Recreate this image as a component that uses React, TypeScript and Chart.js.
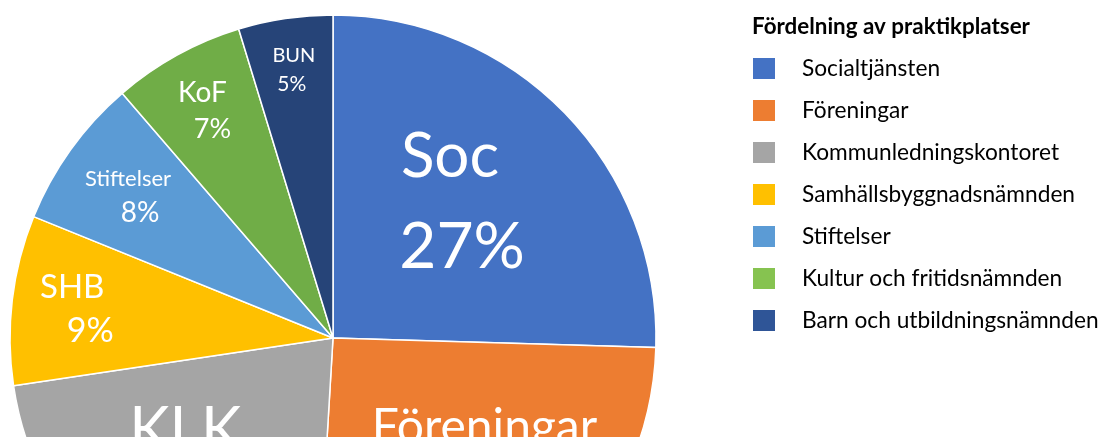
import React, { useEffect, useRef } from "react";
import { Chart, registerables } from "chart.js";

Chart.register(...registerables);

// ---- Data ----
const categories = [
  "Socialtjänsten",
  "Föreningar",
  "Kommunledningskontoret",
  "Samhällsbyggnadsnämnden",
  "Stiftelser",
  "Kultur och fritidsnämnden",
  "Barn och utbildningsnämnden",
];
const shortNames = ["Soc", "Föreningar", "KLK", "SHB", "Stiftelser", "KoF", "BUN"];
const values = [27, 27, 23, 9, 8, 7, 5];
const legendTitle = "Fördelning av praktikplatser";

// ---- Styles ----
const sliceColors = ["#4472C4", "#ED7D31", "#A5A5A5", "#FFC000", "#5B9BD5", "#70AD47", "#264478"];
const legendColors = ["#4472C4", "#ED7D31", "#A5A5A5", "#FFC000", "#5B9BD5", "#86C350", "#2F5597"];
const FONT = "Lato, 'Open Sans', sans-serif";
const labelRadius = [0.572, 0.609, 0.622, 0.785, 0.758, 0.805, 0.842];
const labelAngleShift = [-4.1, -7.9, 4.9, 0, 0, 0, 0];
const nameSize = [62, 48, 61, 33, 22, 28, 20];
const valueSize = [64, 48, 61, 34, 28, 27, 21];
const lineGap = [90, 75, 90, 43.5, 34, 37, 28.5];
const nameDx = [-6, 0, 0, -9, -6, -5, 1];
const valueDx = [6, 0, 0, 9, 6, 5, -1];
const CAP = 0.7165;

const labelPlugin = {
  id: "sliceLabels",
  afterDatasetsDraw(chart: any) {
    const ctx = chart.ctx;
    const meta = chart.getDatasetMeta(0);
    meta.data.forEach((arc: any, i: number) => {
      const p = arc.getProps(["x", "y", "startAngle", "endAngle", "outerRadius"], true);
      const mid = (p.startAngle + p.endAngle) / 2 + (labelAngleShift[i] * Math.PI) / 180;
      const r = p.outerRadius * labelRadius[i];
      const ax = p.x + Math.cos(mid) * r;
      const ay = p.y + Math.sin(mid) * r;
      ctx.save();
      ctx.fillStyle = "#ffffff";
      ctx.textAlign = "center";
      ctx.textBaseline = "alphabetic";
      ctx.font = `${nameSize[i]}px ${FONT}`;
      ctx.fillText(shortNames[i], ax + nameDx[i], ay - lineGap[i] / 2 + CAP * nameSize[i] / 2);
      ctx.font = `${valueSize[i]}px ${FONT}`;
      ctx.fillText(`${chart.data.datasets[0].data[i]}%`, ax + valueDx[i], ay + lineGap[i] / 2 + CAP * valueSize[i] / 2);
      ctx.restore();
    });
  },
};

const legendPlugin = {
  id: "customLegend",
  afterDraw(chart: any) {
    const ctx = chart.ctx;
    const labels: string[] = chart.data.labels;
    ctx.save();
    ctx.fillStyle = "#000000";
    ctx.textAlign = "left";
    ctx.textBaseline = "alphabetic";
    ctx.font = `bold 22.4px ${FONT}`;
    ctx.fillText(legendTitle, 752, 26 + CAP * 22.4 / 2);
    const rowY0 = 68.5;
    const rowStep = 42;
    labels.forEach((lab, i) => {
      const cy = rowY0 + i * rowStep;
      ctx.fillStyle = legendColors[i];
      ctx.fillRect(753, cy - 10.5, 22, 21);
      ctx.fillStyle = "#000000";
      ctx.font = `22.7px ${FONT}`;
      ctx.fillText(lab, 802, cy + CAP * 22.7 / 2 - 1);
    });
    ctx.restore();
  },
};

export default function App() {
  const canvasRef = useRef<HTMLCanvasElement | null>(null);

  useEffect(() => {
    document.body.style.margin = "0";
    document.body.style.background = "#ffffff";
    const canvas = canvasRef.current;
    if (!canvas) return;
    const chart = new Chart(canvas, {
      type: "pie",
      data: {
        labels: categories,
        datasets: [
          {
            data: values,
            backgroundColor: sliceColors,
            borderColor: "#ffffff",
            borderWidth: 1.5,
          },
        ],
      },
      options: {
        responsive: false,
        animation: false,
        devicePixelRatio: 1,
        layout: { padding: { left: 9.25, top: 14.25, right: 448.25, bottom: 38.25 } },
        plugins: {
          legend: { display: false },
          tooltip: { enabled: false },
        },
      },
      plugins: [labelPlugin, legendPlugin],
    } as any);
    return () => chart.destroy();
  }, []);

  return (
    <div style={{ width: 1105, height: 437, overflow: "hidden", position: "relative", background: "#fff" }}>
      <canvas ref={canvasRef} width={1105} height={700} style={{ display: "block" }} />
    </div>
  );
}
